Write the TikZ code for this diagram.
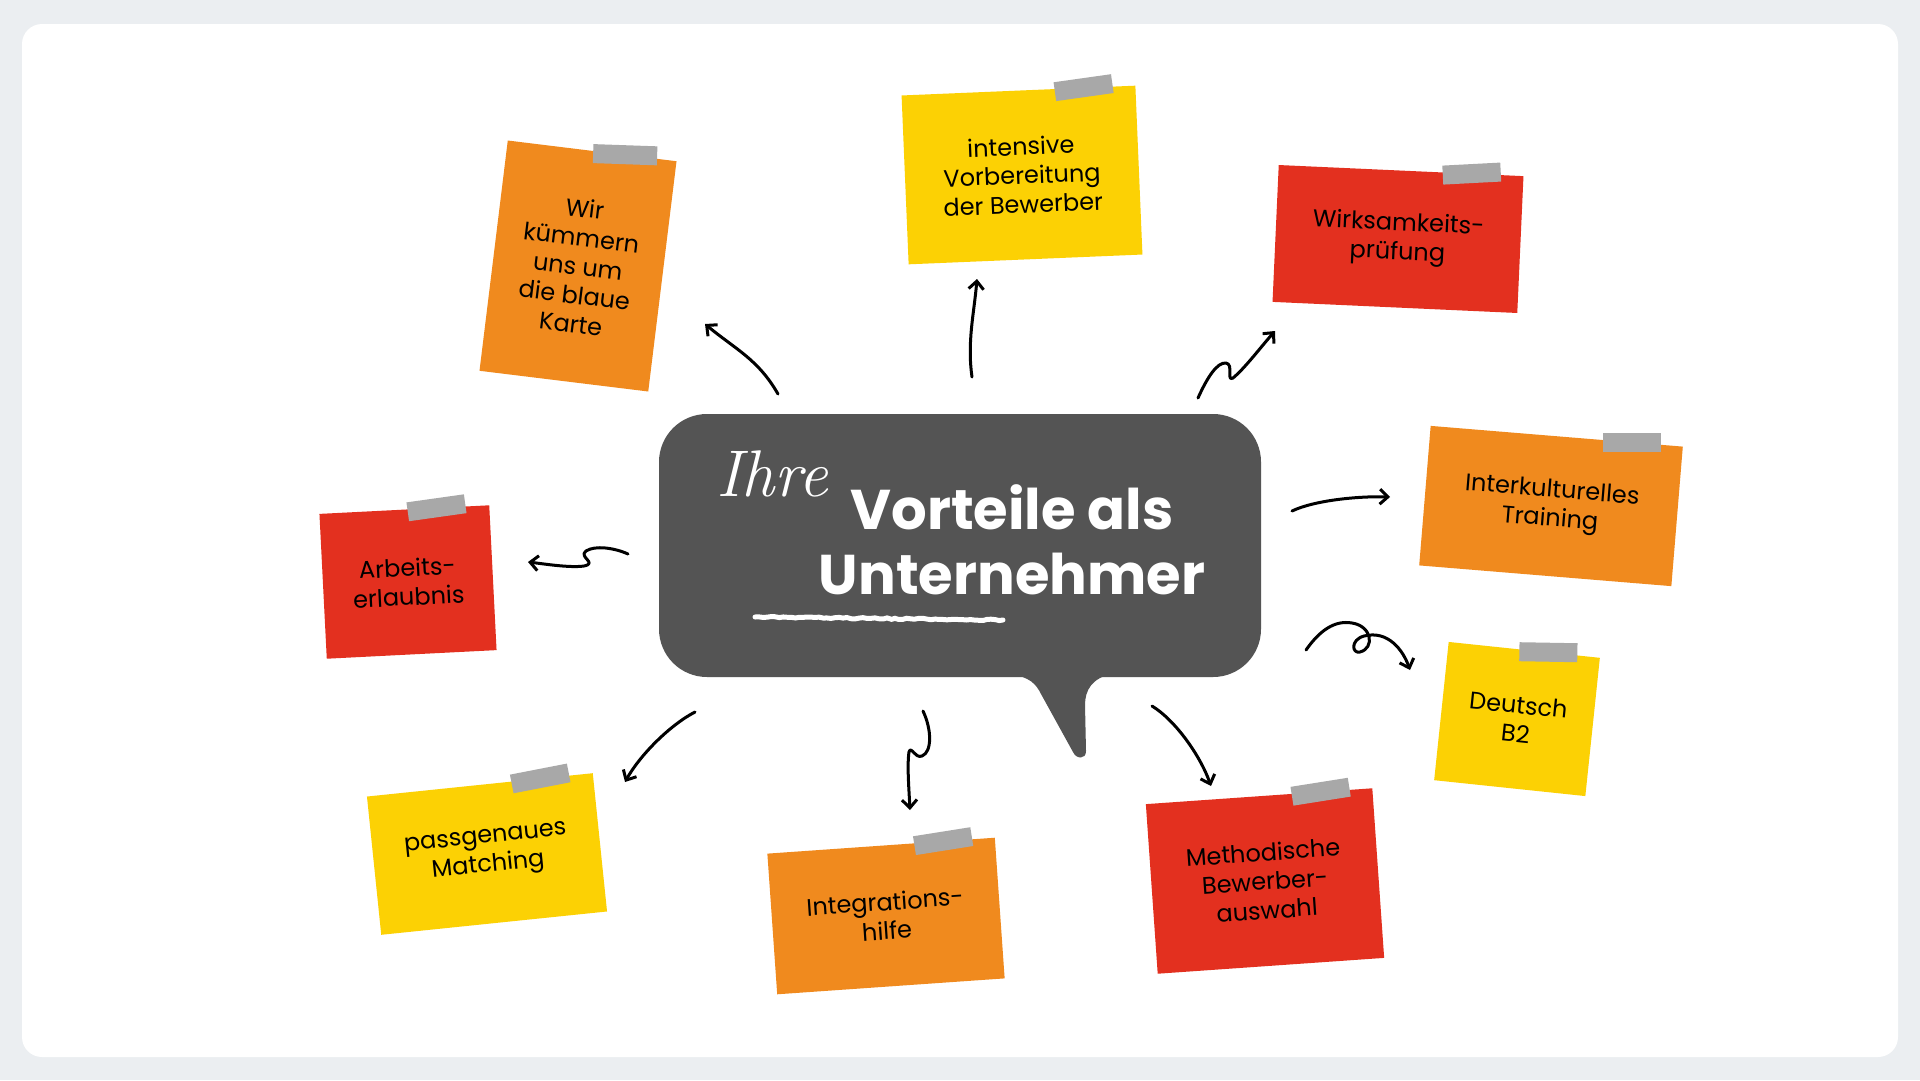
\documentclass[tikz,border=0pt]{standalone}
\usepackage{fontspec}
\newfontfamily\notefont{Poppins}
\usetikzlibrary{calc,arrows.meta,decorations.pathmorphing}

\definecolor{pagebg}{HTML}{EBEEF1}
\definecolor{bubblegray}{HTML}{545454}
\definecolor{noteorange}{HTML}{F08A1E}
\definecolor{noteyellow}{HTML}{FCD104}
\definecolor{notered}{HTML}{E3301F}
\definecolor{tapegray}{HTML}{A8A8A8}

\begin{document}
\begin{tikzpicture}[
    x=1pt, y=-1pt,
    postit/.style={inner sep=0pt, align=center,
        font=\notefont\fontsize{24}{29}\selectfont,
        path picture={\fill[tapegray] (path picture bounding box.south west)
            -- +(7pt,0pt) -- +(0pt,7pt) -- cycle;}},
    tapestrip/.style={fill=tapegray, inner sep=0pt,
        minimum width=58pt, minimum height=19pt},
    headline/.style={font=\notefont\bfseries\fontsize{56}{65}\selectfont,
        text=white, anchor=base, inner sep=0pt},
    scribble/.style={line width=3pt, line cap=round, line join=round,
        -{Straight Barb[length=8pt,width=15pt]}}]

    % page and panel
    \fill[pagebg] (0,0) rectangle (1920,1080);
    \fill[white, rounded corners=20] (22,24) rectangle (1898,1057);

    % speech bubble
    \fill[bubblegray, rounded corners=48] (659,414) rectangle (1261,677);
    \fill[bubblegray] (1010,674) .. controls (1030,677) and (1036,684) .. (1041,694)
        -- (1073,752) .. controls (1076,759) and (1086,760) .. (1086,751)
        -- (1085,705) .. controls (1085,690) and (1092,678) .. (1112,674) -- cycle;
    \node[font=\itshape\fontsize{66}{66}\selectfont, text=white, inner sep=0pt]
        (ihre) at (772,474) {Ihre};
    \node[headline] (title) at (1012,529) {Vorteile als};
    \node[headline] (subtitle) at (1012,594) {Unternehmer};
    \coordinate (ulS) at (755,617);
    \coordinate (ulE) at (1003,620);
    \pgfmathsetseed{7}
    \draw[white, line width=5pt, line cap=round, decorate,
        decoration={random steps, segment length=4pt, amplitude=0.7pt}] (ulS) -- (ulE);

    % notes
    \node[postit, fill=noteorange, minimum width=170pt, minimum height=232pt, rotate=-7]
        (wir) at (578,266) {Wir\\kümmern\\uns um\\die blaue\\Karte};
    \node[postit, fill=noteyellow, minimum width=234pt, minimum height=169pt, rotate=2.4]
        (vorb) at (1022,175) {intensive\\Vorbereitung\\der Bewerber};
    \node[postit, fill=notered, minimum width=245pt, minimum height=137pt, rotate=-2.6]
        (wirk) at (1398,239) {Wirksamkeits-\\prüfung};
    \node[postit, fill=noteorange, minimum width=253pt, minimum height=140pt, rotate=-4.7]
        (inter) at (1551,506) {Interkulturelles\\Training};
    \node[postit, fill=noteyellow, minimum width=152pt, minimum height=139pt, rotate=-6]
        (deutsch) at (1517,719) {Deutsch\\B2};
    \node[postit, fill=notered, minimum width=227pt, minimum height=170pt, rotate=4]
        (method) at (1265,881) {Methodische\\Bewerber-\\auswahl};
    \node[postit, fill=noteorange, minimum width=228pt, minimum height=141pt, rotate=4]
        (integ) at (886,916) {Integrations-\\hilfe};
    \node[postit, fill=noteyellow, minimum width=227pt, minimum height=139pt, rotate=5.9]
        (match) at (487,854) {passgenaues\\Matching};
    \node[postit, fill=notered, minimum width=170pt, minimum height=145pt, rotate=2.9]
        (arbeit) at (408,582) {Arbeits-\\erlaubnis};

    % tape strips
    \node[tapestrip, minimum width=64pt, rotate=-2] (wirtape) at ($(wir.north east)!52pt!(wir.north west)$) {};
    \node[tapestrip, rotate=8] (vorbtape) at ($(vorb.north east)!52pt!(vorb.north west)$) {};
    \node[tapestrip, rotate=3] (wirktape) at ($(wirk.north east)!52pt!(wirk.north west)$) {};
    \node[tapestrip, rotate=0] (intertape) at ($(inter.north east)!51pt!(inter.north west)$) {};
    \node[tapestrip, rotate=-1] (deutschtape) at ($(deutsch.north east)!52pt!(deutsch.north west)$) {};
    \node[tapestrip, rotate=9] (methodtape) at ($(method.north east)!52pt!(method.north west)$) {};
    \node[tapestrip, rotate=9] (integtape) at ($(integ.north east)!52pt!(integ.north west)$) {};
    \node[tapestrip, rotate=11] (matchtape) at ($(match.north east)!53pt!(match.north west)$) {};
    \node[tapestrip, rotate=8] (arbeittape) at ($(arbeit.north east)!53pt!(arbeit.north west)$) {};

    % arrow ends
    \coordinate (wirS) at (778,394);    \coordinate (wirE) at (705,324);
    \coordinate (vorbS) at (972,377);   \coordinate (vorbE) at (977,279);
    \coordinate (wirkS) at (1198,398);  \coordinate (wirkE) at (1275,331);
    \coordinate (interS) at (1292,511); \coordinate (interE) at (1390,497);
    \coordinate (deutschS) at (1306,650); \coordinate (deutschE) at (1410,670);
    \coordinate (methodS) at (1152,706); \coordinate (methodE) at (1211,786);
    \coordinate (integS) at (923,711);  \coordinate (integE) at (910,810);
    \coordinate (matchS) at (695,712);  \coordinate (matchE) at (625,782);
    \coordinate (arbeitS) at (628,554); \coordinate (arbeitE) at (528,562);

    % arrows
    \draw[scribble] (wirS) .. controls +(-20,-35) and +(30,25) .. (wirE);
    \draw[scribble] (vorbS) .. controls +(-5,-35) and +(-3,35) .. (vorbE);
    \draw[scribble] (wirkS) .. controls (1207,378) and (1217,362) .. (1226,363)
        .. controls (1234,364) and (1226,382) .. (1233,378)
        .. controls (1245,368) and (1260,348) .. (wirkE);
    \draw[scribble] (interS) .. controls (1315,500) and (1360,496) .. (interE);
    \draw[scribble] (deutschS) .. controls (1320,630) and (1335,620) .. (1352,623)
        .. controls (1372,626) and (1375,648) .. (1360,652)
        .. controls (1352,654) and (1350,640) .. (1364,636)
        .. controls (1388,630) and (1403,650) .. (deutschE);
    \draw[scribble] (methodS) .. controls (1175,720) and (1200,755) .. (methodE);
    \draw[scribble] (integS) .. controls (932,730) and (932,752) .. (922,756)
        .. controls (915,759) and (911,745) .. (909,752)
        .. controls (907,765) and (909,790) .. (integE);
    \draw[scribble] (matchS) .. controls (670,725) and (640,755) .. (matchE);
    \draw[scribble] (arbeitS) .. controls (615,548) and (595,545) .. (586,551)
        .. controls (578,557) and (598,563) .. (584,566)
        .. controls (570,568) and (545,564) .. (arbeitE);
\end{tikzpicture}
\end{document}
